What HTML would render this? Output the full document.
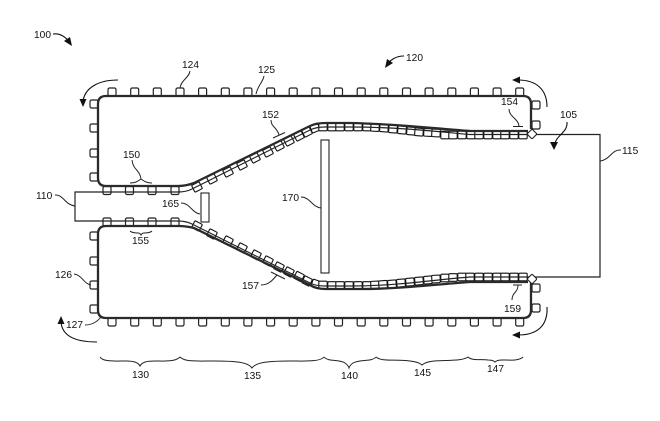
<!DOCTYPE html>
<html><head><meta charset="utf-8"><style>
html,body{margin:0;padding:0;background:#fff;width:660px;height:421px;overflow:hidden}
svg{display:block}
text{font-family:"Liberation Sans",sans-serif;font-size:10.200px;fill:#111}
.w{fill:none;stroke:#2a2a2a;stroke-width:2.300}
.t{fill:none;stroke:#222;stroke-width:1.200}
.l{fill:none;stroke:#222;stroke-width:1}
.a{fill:none;stroke:#111;stroke-width:1.100}
.h{fill:#111;stroke:none}
</style></head><body>
<svg width="660" height="421" viewBox="0 0 660 421" xmlns="http://www.w3.org/2000/svg">
<defs>
<rect id="u" x="-4" y="-4" width="8" height="8" rx="1.500" fill="#fff" stroke="#222" stroke-width="1.200"/>
<rect id="r" x="-4.200" y="-3.800" width="8.400" height="7.600" rx="1" fill="#fff" stroke="#111" stroke-width="1.100"/>
</defs>

<rect x="201" y="193" width="8" height="29" fill="#fff" stroke="#222" stroke-width="1.100"/>
<rect x="321" y="140" width="8" height="133" fill="#fff" stroke="#222" stroke-width="1.100"/>

<!-- outer tiles, top -->
<g>
<use href="#u" x="112" y="92"/><use href="#u" x="134.700" y="92"/><use href="#u" x="157.300" y="92"/><use href="#u" x="180" y="92"/><use href="#u" x="202.600" y="92"/><use href="#u" x="225.300" y="92"/><use href="#u" x="247.900" y="92"/><use href="#u" x="270.600" y="92"/><use href="#u" x="293.200" y="92"/><use href="#u" x="315.900" y="92"/><use href="#u" x="338.500" y="92"/><use href="#u" x="361.200" y="92"/><use href="#u" x="383.800" y="92"/><use href="#u" x="406.500" y="92"/><use href="#u" x="429.100" y="92"/><use href="#u" x="451.800" y="92"/><use href="#u" x="474.400" y="92"/><use href="#u" x="497.100" y="92"/><use href="#u" x="519.700" y="92"/>
</g>
<!-- outer tiles, bottom -->
<g>
<use href="#u" x="112" y="322"/><use href="#u" x="134.700" y="322"/><use href="#u" x="157.300" y="322"/><use href="#u" x="180" y="322"/><use href="#u" x="202.600" y="322"/><use href="#u" x="225.300" y="322"/><use href="#u" x="247.900" y="322"/><use href="#u" x="270.600" y="322"/><use href="#u" x="293.200" y="322"/><use href="#u" x="315.900" y="322"/><use href="#u" x="338.500" y="322"/><use href="#u" x="361.200" y="322"/><use href="#u" x="383.800" y="322"/><use href="#u" x="406.500" y="322"/><use href="#u" x="429.100" y="322"/><use href="#u" x="451.800" y="322"/><use href="#u" x="474.400" y="322"/><use href="#u" x="497.100" y="322"/><use href="#u" x="519.700" y="322"/>
</g>
<!-- outer tiles, sides -->
<g>
<use href="#u" x="94" y="104"/><use href="#u" x="94" y="128"/><use href="#u" x="94" y="153"/><use href="#u" x="94" y="177"/><use href="#u" x="94" y="236"/><use href="#u" x="94" y="261"/><use href="#u" x="94" y="285"/><use href="#u" x="94" y="309"/>
<use href="#u" x="536" y="105"/><use href="#u" x="536" y="125"/><use href="#u" x="536" y="288"/><use href="#u" x="536" y="308"/>
</g>

<!-- throat tiles -->
<g>
<use href="#u" x="107" y="190.500"/><use href="#u" x="129.500" y="190.500"/><use href="#u" x="152" y="190.500"/><use href="#u" x="175" y="190.500"/>
<use href="#u" x="107" y="222"/><use href="#u" x="129.500" y="222"/><use href="#u" x="152" y="222"/><use href="#u" x="175" y="222"/>
</g>

<!-- upper reflector tiles -->
<g>
<use href="#r" transform="translate(197 187) rotate(-27)"/><use href="#r" transform="translate(212 179) rotate(-27)"/><use href="#r" transform="translate(228 172) rotate(-27)"/><use href="#r" transform="translate(242 165) rotate(-27)"/><use href="#r" transform="translate(255 158) rotate(-27)"/><use href="#r" transform="translate(268 152) rotate(-27)"/><use href="#r" transform="translate(279 146) rotate(-27)"/><use href="#r" transform="translate(289 141) rotate(-27)"/><use href="#r" transform="translate(299 136) rotate(-27)"/><use href="#r" transform="translate(307 132) rotate(-27)"/><use href="#r" transform="translate(315 128) rotate(-22)"/>
<use href="#r" x="323" y="127"/><use href="#r" x="332" y="127"/><use href="#r" x="340" y="127"/><use href="#r" x="349" y="127"/><use href="#r" x="358" y="127"/><use href="#r" x="367" y="127"/><use href="#r" transform="translate(375 127.500) rotate(3)"/><use href="#r" transform="translate(384 128) rotate(4)"/><use href="#r" transform="translate(393 129) rotate(4)"/><use href="#r" transform="translate(402 130) rotate(4)"/><use href="#r" transform="translate(411 131) rotate(4)"/><use href="#r" transform="translate(419 132) rotate(4)"/><use href="#r" transform="translate(428 132.500) rotate(3)"/><use href="#r" transform="translate(436 133) rotate(3)"/>
<use href="#r" x="445" y="135"/><use href="#r" x="453" y="135"/><use href="#r" x="462" y="135"/><use href="#r" x="471" y="135"/><use href="#r" x="479" y="135"/><use href="#r" x="488" y="135"/><use href="#r" x="497" y="135"/><use href="#r" x="505" y="135"/><use href="#r" x="514" y="135"/><use href="#r" x="523" y="135"/>
</g>

<!-- lower reflector tiles -->
<g>
<use href="#r" transform="translate(197 226) rotate(27)"/><use href="#r" transform="translate(212 234) rotate(27)"/><use href="#r" transform="translate(228 241) rotate(27)"/><use href="#r" transform="translate(242 248) rotate(27)"/><use href="#r" transform="translate(256 255) rotate(27)"/><use href="#r" transform="translate(268 261) rotate(27)"/><use href="#r" transform="translate(279 267) rotate(27)"/><use href="#r" transform="translate(289 272) rotate(27)"/><use href="#r" transform="translate(299 276.500) rotate(27)"/><use href="#r" transform="translate(307 281) rotate(27)"/><use href="#r" transform="translate(316 284) rotate(20)"/>
<use href="#r" x="323" y="285"/><use href="#r" x="332" y="285.500"/><use href="#r" x="340" y="285.500"/><use href="#r" x="349" y="285.500"/><use href="#r" x="358" y="285.500"/><use href="#r" x="367" y="285.500"/><use href="#r" transform="translate(375 285) rotate(-3)"/><use href="#r" transform="translate(383 284.500) rotate(-4)"/><use href="#r" transform="translate(392 284) rotate(-4)"/><use href="#r" transform="translate(401 283) rotate(-4)"/><use href="#r" transform="translate(410 282) rotate(-4)"/><use href="#r" transform="translate(419 281) rotate(-4)"/><use href="#r" transform="translate(428 280) rotate(-4)"/><use href="#r" transform="translate(436 279) rotate(-3)"/>
<use href="#r" x="445" y="278"/><use href="#r" x="453" y="277.500"/><use href="#r" x="462" y="277"/><use href="#r" x="470" y="277"/><use href="#r" x="479" y="277"/><use href="#r" x="488" y="277"/><use href="#r" x="497" y="277"/><use href="#r" x="505" y="277"/><use href="#r" x="514" y="277"/><use href="#r" x="523" y="277"/>
</g>

<!-- duct outline passes through the tiles -->
<path class="t" d="M178 192H75V221H178Q186 221 192 224L310 283Q316 286 325 286H350C400 286 440 279 470 277H600V134.500H470C440 132 400 127 350 127H325Q316 127 310 130L192 189Q186 192 178 192Z"/>

<!-- thick walls -->
<path class="w" d="M531 129V104Q531 96 523 96H106Q98 96 98 104V178Q98 186 106 186H178Q186 186 194 183L310 126Q316 123 326 123H350C400 124 440 129 470 131H528"/>
<path class="w" d="M531 281V310Q531 318 523 318H106Q98 318 98 310V234Q98 226 106 226H178Q186 226 194 228L310 285Q316 289 326 289H360C400 289 440 284 470 282H528"/>

<!-- diamonds -->
<rect x="-3.500" y="-3.500" width="7" height="7" rx="1" transform="translate(532 134) rotate(45)" fill="#fff" stroke="#222" stroke-width="1.100"/>
<rect x="-3.500" y="-3.500" width="7" height="7" rx="1" transform="translate(532 279) rotate(45)" fill="#fff" stroke="#222" stroke-width="1.100"/>

<!-- flow arrows -->
<path class="a" d="M118 80C98 80 85 88 83 101"/><path class="h" d="M83 107L79.500 99H86.500Z"/>
<path class="a" d="M97 342C74 342 62 335 61 322"/><path class="h" d="M61 316L57.500 324H64.500Z"/>
<path class="a" d="M547 107C547 90 537 80 518 80"/><path class="h" d="M512 80L520 76.500V83.500Z"/>
<path class="a" d="M547 307C548 325 538 335 518 335"/><path class="h" d="M512 335L520 331.500V338.500Z"/>

<!-- callout arrows -->
<path class="a" d="M53 34C60 33 66 37 70 43"/><path class="h" d="M72 46L64 41L70 37Z"/>
<path class="a" d="M404 56C396 56 390 60 387 65"/><path class="h" d="M385 68L387 59L393 63Z"/>
<path class="a" d="M567 122C568 132 557 135 555 143"/><path class="h" d="M554 150L550 142H558Z"/>

<!-- leaders -->
<path class="l" d="M190 71C189 78 181 80 180 88"/>
<path class="l" d="M264 76C263 82 258 85 256 94"/>
<path class="l" d="M55 195C63 194 65 205 75 206"/>
<path class="l" d="M621 150C612 149 610 160 600 161"/>
<path class="l" d="M181 203C190 203 192 213 200 214"/>
<path class="l" d="M301 197C310 197 312 207 321 208"/>
<path class="l" d="M74 274C82 275 84 284 91 285"/>
<path class="l" d="M85 325C92 325 97 322 101 317"/>
<path class="l" d="M132 160C133 170 140 170 141 179"/>
<path class="l" d="M130 183C136 183 138 181 141 179C144 181 146 183 152 183"/>
<path class="l" d="M130 231C132 233 136 233 138 233Q140 233 141 235Q142 233 144 233C146 233 150 233 152 231"/>
<path class="l" d="M271 120C271 127 277 127 279 135M273 138L285 132.500"/>
<path class="l" d="M261 285C268 285 272 281 277 275M271 272L285 279"/>
<path class="l" d="M509 109C509 117 518 118 519 126M513 126.500H523"/>
<path class="l" d="M512 300C512 292 518 293 518 285M513 285H522"/>

<!-- braces -->
<path class="l" d="M100 357C103 362 115 361 125 361C133 361 138 362 140 366C142 362 147 361 155 361C165 361 175 362 180 357"/>
<path class="l" d="M180 357C185 362 195 361 215 361C235 361 248 362 252 368C256 362 270 361 290 361C305 361 320 362 324 357"/>
<path class="l" d="M324 357C328 362 340 359 345 363Q348 365 349 368Q350 365 353 363C360 359 372 362 376 357"/>
<path class="l" d="M376 357C382 362 395 359 410 361Q419 362 422 365Q425 362 434 361C450 360 462 361 468 357"/>
<path class="l" d="M468 357C472 361 482 359 488 360Q493 360 495 362Q497 360 502 360C510 360 519 361 523 357"/>

<!-- labels -->
<text x="34" y="38">100</text>
<text x="406" y="61">120</text>
<text x="182" y="68">124</text>
<text x="258" y="73">125</text>
<text x="36" y="199">110</text>
<text x="622" y="154">115</text>
<text x="123" y="158">150</text>
<text x="132" y="244">155</text>
<text x="162" y="207">165</text>
<text x="282" y="201">170</text>
<text x="262" y="118">152</text>
<text x="242" y="289">157</text>
<text x="501" y="105">154</text>
<text x="504" y="312">159</text>
<text x="560" y="118">105</text>
<text x="55" y="278">126</text>
<text x="66" y="328">127</text>
<text x="132" y="378">130</text>
<text x="244" y="379">135</text>
<text x="341" y="379">140</text>
<text x="414" y="376">145</text>
<text x="487" y="372">147</text>
</svg>
</body></html>
